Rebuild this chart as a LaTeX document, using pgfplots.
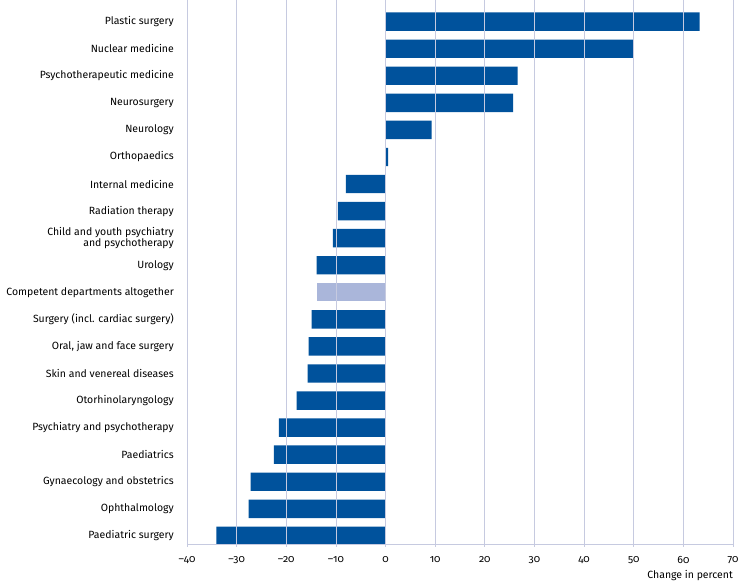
\documentclass[border=0pt]{standalone}
\usepackage{fontspec}
\setmainfont{Fira Sans}[Numbers=OldStyle]
\usepackage{pgfplots}
\pgfplotsset{compat=1.18}
\definecolor{barblue}{RGB}{0,82,156}
\definecolor{barlight}{RGB}{170,182,218}
\definecolor{gridc}{RGB}{198,202,224}
\newcommand{\lbl}{\fontsize{10.5}{11}\selectfont\addfontfeature{Numbers=OldStyle}}
\begin{document}
\begin{tikzpicture}
\begin{axis}[
  scale only axis,
  width=546bp, height=544bp,
  xbar, bar width=0.68,
  xmin=-40, xmax=70,
  ymin=-0.3, ymax=19.8,
  axis on top,
  axis x line*=bottom, axis y line*=left,
  axis line style={gridc, line width=0.8pt},
  xmajorgrids, major grid style={gridc, line width=0.8pt},
  xtick={-40,-30,...,70},
  xticklabels={\textup{–40},\textup{–30},\textup{–20},\textup{–10},\textup{0},\textup{10},\textup{20},\textup{30},\textup{40},\textup{50},\textup{60},\textup{70}},
  xtick style={gridc, line width=0.8pt},
  tick align=outside, major tick length=3bp,
  ytick={0,...,19},
  ytick style={draw=none},
  yticklabels={Paediatric surgery, Ophthalmology, Gynaecology and obstetrics, Paediatrics, Psychiatry and psychotherapy, Otorhinolaryngology, Skin and venereal diseases, {Oral, jaw and face surgery}, Surgery (incl. cardiac surgery), Competent departments altogether, Urology, {Child and youth psychiatry\\and psychotherapy}, Radiation therapy, Internal medicine, Orthopaedics, Neurology, Neurosurgery, Psychotherapeutic medicine, Nuclear medicine, Plastic surgery},
  yticklabel style={align=right, font=\fontsize{10.5}{11.5}\selectfont, text=black, inner sep=0pt, xshift=-10bp},
  xticklabel style={font=\lbl, text=black, yshift=-6bp},
  xlabel={Change in percent},
  xlabel style={font=\lbl, text=black, at={(rel axis cs:1,0)}, anchor=north east, yshift=-26bp, inner sep=0pt},
]
\addplot[fill=barblue, draw=none, bar shift=0pt] coordinates {
(-34.1,0) (-27.6,1) (-27.2,2) (-22.5,3) (-21.5,4) (-17.9,5) (-15.7,6) (-15.5,7) (-14.9,8)
(-13.9,10) (-10.6,11) (-9.6,12) (-8.0,13) (0.5,14) (9.3,15) (25.7,16) (26.6,17) (49.9,18) (63.3,19)
};
\addplot[fill=barlight, draw=none, bar shift=0pt] coordinates {(-13.9,9)};
\coordinate (bl) at (rel axis cs:0,0);
\coordinate (tr) at (rel axis cs:1,1);
\end{axis}
\pgfresetboundingbox
\path[use as bounding box] ([shift={(-187bp,-43bp)}]bl) rectangle ([shift={(13bp,0bp)}]tr);
\end{tikzpicture}
\end{document}
